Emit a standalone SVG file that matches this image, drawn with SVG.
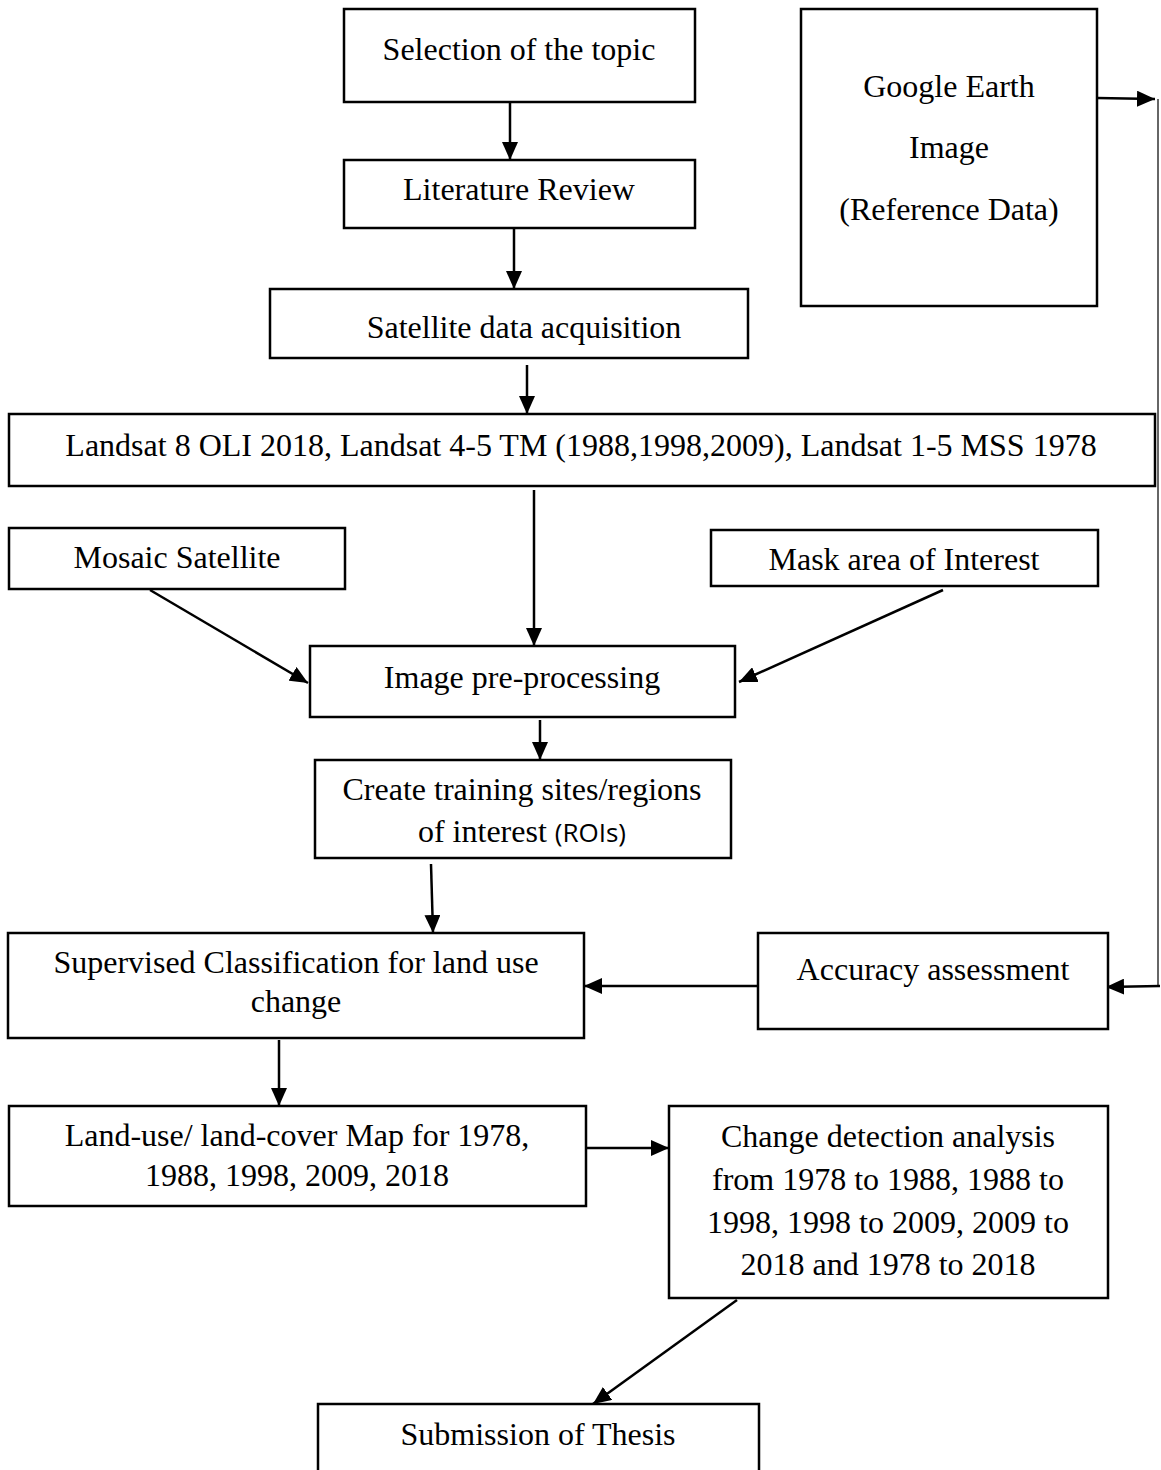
<svg xmlns="http://www.w3.org/2000/svg" width="1161" height="1470" viewBox="0 0 1161 1470">
<style>
.box{fill:#fff;stroke:#000;stroke-width:2.5}
.t{font-family:"Liberation Serif","Times New Roman",serif;font-size:32px;fill:#000;text-anchor:middle}
.s{font-family:"Open Sans","Liberation Sans",sans-serif;font-size:26px}
.c{stroke:#000;stroke-width:2.5;fill:none}
.thin{stroke:#333;stroke-width:1.5;fill:none}
</style>
<defs>
<marker id="ah" markerUnits="userSpaceOnUse" markerWidth="20" markerHeight="16" refX="18" refY="8" orient="auto">
<path d="M0,0 L18,8 L0,16 Z" fill="#000"/>
</marker>
</defs>
<rect width="1161" height="1470" fill="#fff"/>
<g id="connectors">
<line class="c" x1="510" y1="102" x2="510" y2="160" marker-end="url(#ah)"/>
<line class="c" x1="514" y1="228" x2="514" y2="289" marker-end="url(#ah)"/>
<line class="c" x1="527" y1="365" x2="527" y2="414" marker-end="url(#ah)"/>
<line class="c" x1="534" y1="490" x2="534" y2="646" marker-end="url(#ah)"/>
<line class="c" x1="150" y1="590" x2="308" y2="683" marker-end="url(#ah)"/>
<line class="c" x1="943" y1="590" x2="739" y2="682" marker-end="url(#ah)"/>
<line class="c" x1="540" y1="720" x2="540" y2="760" marker-end="url(#ah)"/>
<line class="c" x1="431" y1="864" x2="433" y2="933" marker-end="url(#ah)"/>
<line class="c" x1="758" y1="986" x2="584" y2="986" marker-end="url(#ah)"/>
<line class="c" x1="279" y1="1040" x2="279" y2="1106" marker-end="url(#ah)"/>
<line class="c" x1="586" y1="1148" x2="669" y2="1148" marker-end="url(#ah)"/>
<line class="c" x1="737" y1="1300" x2="593" y2="1404" marker-end="url(#ah)"/>
<line class="c" x1="1097" y1="98" x2="1155" y2="99" marker-end="url(#ah)"/>
<line class="thin" x1="1158" y1="99" x2="1158" y2="986"/>
<line class="c" x1="1160" y1="986" x2="1106" y2="987" marker-end="url(#ah)"/>
</g>
<g id="n1"><rect class="box" x="344" y="9" width="351" height="93"/><text class="t" x="519" y="60">Selection of the topic</text></g>
<g id="n2"><rect class="box" x="801" y="9" width="296" height="297"/><text class="t" x="949" y="97">Google Earth</text><text class="t" x="949" y="158">Image</text><text class="t" x="949" y="220">(Reference Data)</text></g>
<g id="n3"><rect class="box" x="344" y="160" width="351" height="68"/><text class="t" x="519" y="200">Literature Review</text></g>
<g id="n4"><rect class="box" x="270" y="289" width="478" height="69"/><text class="t" x="524" y="338">Satellite data acquisition</text></g>
<g id="n5"><rect class="box" x="9" y="414" width="1146" height="72"/><text class="t" x="581" y="456">Landsat 8 OLI 2018, Landsat 4-5 TM (1988,1998,2009), Landsat 1-5 MSS 1978</text></g>
<g id="n6"><rect class="box" x="9" y="528" width="336" height="61"/><text class="t" x="177" y="568">Mosaic Satellite</text></g>
<g id="n7"><rect class="box" x="711" y="530" width="387" height="56"/><text class="t" x="904" y="570">Mask area of Interest</text></g>
<g id="n8"><rect class="box" x="310" y="646" width="425" height="71"/><text class="t" x="522" y="688">Image pre-processing</text></g>
<g id="n9"><rect class="box" x="315" y="760" width="416" height="98"/><text class="t" x="522" y="800">Create training sites/regions</text><text class="t" x="522" y="842">of interest <tspan class="s">(ROIs)</tspan></text></g>
<g id="n10"><rect class="box" x="8" y="933" width="576" height="105"/><text class="t" x="296" y="973">Supervised Classification for land use</text><text class="t" x="296" y="1012">change</text></g>
<g id="n11"><rect class="box" x="758" y="933" width="350" height="96"/><text class="t" x="933" y="980">Accuracy assessment</text></g>
<g id="n12"><rect class="box" x="9" y="1106" width="577" height="100"/><text class="t" x="297" y="1146">Land-use/ land-cover Map for 1978,</text><text class="t" x="297" y="1186">1988, 1998, 2009, 2018</text></g>
<g id="n13"><rect class="box" x="669" y="1106" width="439" height="192"/><text class="t" x="888" y="1147">Change detection analysis</text><text class="t" x="888" y="1190">from 1978 to 1988, 1988 to</text><text class="t" x="888" y="1233">1998, 1998 to 2009, 2009 to</text><text class="t" x="888" y="1275">2018 and 1978 to 2018</text></g>
<g id="n14"><rect class="box" x="318" y="1404" width="441" height="80"/><text class="t" x="538" y="1445">Submission of Thesis</text></g>
</svg>
